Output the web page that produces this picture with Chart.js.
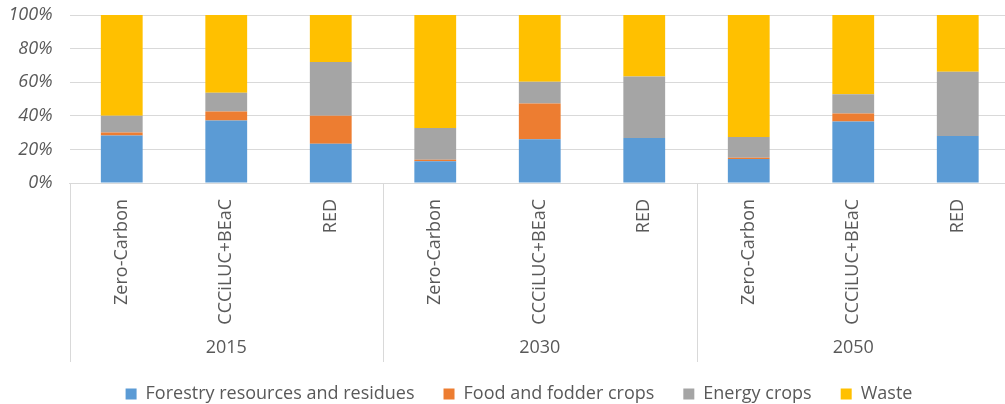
<!DOCTYPE html>
<html>
<head>
<meta charset="utf-8">
<script src="https://cdn.jsdelivr.net/npm/chart.js@4"></script>
<style>
  html, body { margin: 0; padding: 0; background: #fff; overflow: hidden; }
  .wrap { position: relative; width: 1010px; height: 413px; }
</style>
</head>
<body>
<div class="wrap"><canvas id="bioChart"></canvas></div>
<script>
const scenarios = ['Zero-Carbon', 'CCCiLUC+BEaC', 'RED', 'Zero-Carbon', 'CCCiLUC+BEaC', 'RED', 'Zero-Carbon', 'CCCiLUC+BEaC', 'RED'];
const years = ['2015', '2030', '2050'];
const yTicks = [0, 20, 40, 60, 80, 100];

// shares in %
const forestry = [28.2, 37.2, 23.4, 12.9, 26.0, 26.8, 14.3, 36.6, 28.0];
const foodFodder = [1.8, 5.3, 16.6, 1.0, 21.3, 0, 0.8, 4.7, 0];
const energyCrops = [10.0, 11.2, 32.0, 18.9, 12.9, 36.6, 12.3, 11.6, 38.2];
const waste = [60.0, 46.3, 28.0, 67.2, 39.8, 36.6, 72.6, 47.1, 33.8];

const FONT = "'Open Sans', sans-serif";
const TEXT = '#595959';
const GRID = '#d9d9d9';

// year groups under the scenario labels
const yearGroups = {
    id: 'yearGroups',
    afterLayout(chart) {
        // legend sits a little right of centre in the original
        chart.legend.left += 14;
        chart.legend.right += 14;
    },
    afterDraw(chart) {
        const x = chart.scales.x;
        const ctx = chart.ctx;
        const top = chart.chartArea.bottom;
        const per = scenarios.length / years.length;
        ctx.save();
        ctx.strokeStyle = GRID;
        ctx.lineWidth = 1;
        for (let g = 0; g <= years.length; g++) {
            const px = Math.round(x.getPixelForValue(g * per - 0.5)) + 0.5;
            ctx.beginPath();
            ctx.moveTo(px, top);
            ctx.lineTo(px, 362);
            ctx.stroke();
        }
        ctx.fillStyle = TEXT;
        ctx.font = '18px ' + FONT;
        ctx.textAlign = 'center';
        ctx.textBaseline = 'middle';
        years.forEach((yr, g) => {
            ctx.fillText(yr, x.getPixelForValue(g * per + (per - 1) / 2), 348);
        });
        ctx.restore();
    }
};

const ctx = document.getElementById('bioChart').getContext('2d');

new Chart(ctx, {
    type: 'bar',
    data: {
        labels: scenarios,
        datasets: [
            { label: 'Forestry resources and residues', data: forestry, backgroundColor: '#5B9BD5' },
            { label: 'Food and fodder crops', data: foodFodder, backgroundColor: '#ED7D31' },
            { label: 'Energy crops', data: energyCrops, backgroundColor: '#A5A5A5' },
            { label: 'Waste', data: waste, backgroundColor: '#FFC000' }
        ]
    },
    options: {
        responsive: true,
        maintainAspectRatio: false,
        animation: false,
        datasets: { bar: { barPercentage: 0.4, categoryPercentage: 1 } },
        layout: { padding: 0 },
        plugins: {
            legend: {
                position: 'bottom',
                labels: {
                    boxWidth: 11,
                    boxHeight: 11,
                    padding: 29,
                    color: TEXT,
                    font: { family: FONT, size: 18 }
                }
            },
            tooltip: { enabled: false }
        },
        scales: {
            x: {
                stacked: true,
                grid: { display: false, drawTicks: false },
                border: { color: GRID },
                ticks: {
                    autoSkip: false,
                    minRotation: 90,
                    maxRotation: 90,
                    padding: 16,
                    color: TEXT,
                    font: { family: FONT, size: 18 }
                },
                afterFit(scale) { scale.height = 173; }
            },
            y: {
                stacked: true,
                min: 0,
                max: 100,
                afterBuildTicks(scale) { scale.ticks = yTicks.map(v => ({ value: v })); },
                grid: { color: GRID, drawTicks: false },
                border: { display: false },
                ticks: {
                    padding: 17,
                    color: TEXT,
                    font: { family: FONT, size: 18, style: 'italic' },
                    callback: v => v + '%'
                },
                afterFit(scale) {
                    scale.width = 69.5;
                    scale.paddingTop = 15;
                    scale.paddingBottom = 0;
                }
            }
        }
    },
    plugins: [yearGroups]
});
</script>
</body>
</html>
